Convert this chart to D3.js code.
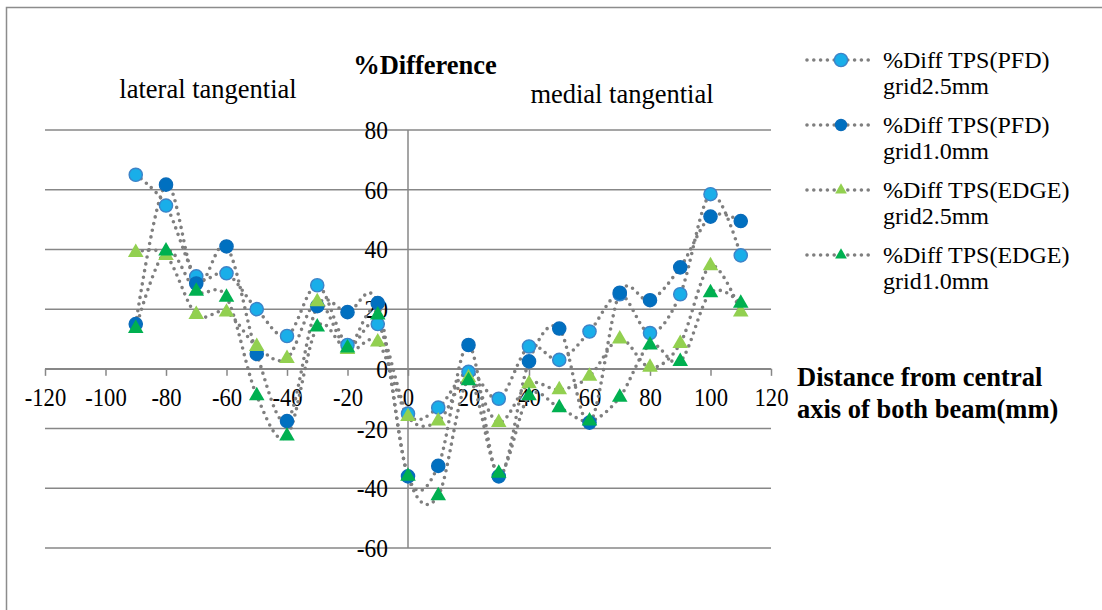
<!DOCTYPE html>
<html>
<head>
<meta charset="utf-8">
<script src="https://cdn.jsdelivr.net/npm/d3@7"></script>
<style>
  body { margin: 0; background: #fff; }
  svg text { font-family: "Liberation Serif", Tinos, "Times New Roman", Times, "DejaVu Serif", serif; fill: #000; }
</style>
</head>
<body>
<svg id="chart" width="1102" height="610"></svg>
<script>
// distance from central axis (mm)
const distances = [-90, -80, -70, -60, -50, -40, -30, -20, -10, 0, 10, 20, 30, 40, 50, 60, 70, 80, 90, 100, 110];
const pfdGrid25 = [65, 54.7, 31, 32, 20, 11, 28, 8, 15, -15, -13, -1, -10, 7.5, 3, 12.5, 25, 12, 25, 58.5, 38];
const pfdGrid10 = [15, 61.7, 28.6, 41, 5, -17.5, 21, 19, 22, -36, -32.5, 8, -36, 2.5, 13.5, -18, 25.5, 23, 34, 51, 49.5];
const edgeGrid25 = [39, 38, 18.2, 19, 7.5, 3.5, 22.5, 6.5, 9, -16, -17.5, -3, -18, -5, -7, -2.5, 10, 0.5, 8.5, 34.5, 19];
const edgeGrid10 = [13.5, 39.5, 26, 24, -9, -22.5, 14, 7, 18, -36, -42.5, -4, -35, -9, -13, -17.5, -9.5, 8, 2.5, 25.5, 22];
const xTicks = [-120, -100, -80, -60, -40, -20, 0, 20, 40, 60, 80, 100, 120];
const yTicks = [-60, -40, -20, 0, 20, 40, 60, 80];

const series = [
    { name: ['%Diff TPS(PFD)', 'grid2.5mm'], values: pfdGrid25, shape: 'circle', fill: '#19aee9', stroke: '#3d83c8' },
    { name: ['%Diff TPS(PFD)', 'grid1.0mm'], values: pfdGrid10, shape: 'circle', fill: '#0070c0', stroke: '#0a6cba' },
    { name: ['%Diff TPS(EDGE)', 'grid2.5mm'], values: edgeGrid25, shape: 'triangle', fill: '#92d050', stroke: 'none' },
    { name: ['%Diff TPS(EDGE)', 'grid1.0mm'], values: edgeGrid10, shape: 'triangle', fill: '#00b050', stroke: 'none' }
];

const svg = d3.select('#chart');

// outer frame
svg.append('rect')
    .attr('x', 6.5).attr('y', 7.5)
    .attr('width', 1200).attr('height', 700)
    .attr('fill', 'none').attr('stroke', '#8c8c8c').attr('stroke-width', 1.5);

const x = d3.scaleLinear().domain([-120, 120]).range([45, 771]);
const y = d3.scaleLinear().domain([-60, 80]).range([548, 130]);

// horizontal gridlines
svg.append('g').selectAll('line')
    .data(yTicks)
    .enter()
    .append('line')
    .attr('x1', x(-120)).attr('x2', x(120))
    .attr('y1', (d) => y(d)).attr('y2', (d) => y(d))
    .attr('stroke', '#878787').attr('stroke-width', 1.5);

// vertical axis line
svg.append('line')
    .attr('x1', x(0)).attr('x2', x(0))
    .attr('y1', y(80)).attr('y2', y(-60))
    .attr('stroke', '#878787').attr('stroke-width', 1.5);

// x axis through zero
const xAxis = svg.append('g')
    .attr('transform', `translate(0,${y(0)})`)
    .call(d3.axisBottom(x).tickValues(xTicks).tickFormat((d) => String(d))
        .tickSizeInner(7).tickSizeOuter(0).tickPadding(12));
xAxis.attr('font-family', null).attr('font-size', null);
xAxis.select('.domain').attr('stroke', '#878787').attr('stroke-width', 1.5);
xAxis.selectAll('.tick line').attr('stroke', '#878787').attr('stroke-width', 1.5);
xAxis.selectAll('.tick text')
    .style('font-size', '26px')
    .attr('transform', 'scale(0.87,1)')
    .attr('fill', '#000');

// y tick labels sit left of the vertical axis (slightly condensed like the original)
svg.append('g').selectAll('text')
    .data(yTicks)
    .enter()
    .append('text')
    .attr('transform', (d) => `translate(${x(0) - 20},${y(d) + 9}) scale(0.9,1)`)
    .attr('text-anchor', 'end')
    .style('font-size', '26px')
    .text((d) => String(d));

const line = d3.line()
    .x((d) => x(d[0]))
    .y((d) => y(d[1]))
    .curve(d3.curveCardinal.tension(0));

// dotted smooth lines
series.forEach((s) => {
    svg.append('path')
        .datum(distances.map((d, i) => [d, s.values[i]]))
        .attr('fill', 'none')
        .attr('stroke', '#7f7f7f')
        .attr('stroke-width', 3.6)
        .attr('stroke-linecap', 'round')
        .attr('stroke-dasharray', '0 6.8')
        .attr('d', line);
});

const triangle = d3.symbol().type(d3.symbolTriangle).size(105);

const drawMarker = (g, s, cx, cy) => {
    if (s.shape === 'circle') {
        g.append('circle')
            .attr('cx', cx).attr('cy', cy).attr('r', 6.6)
            .attr('fill', s.fill).attr('stroke', s.stroke).attr('stroke-width', 1.4);
    } else {
        g.append('path')
            .attr('d', triangle())
            .attr('transform', `translate(${cx},${cy})`)
            .attr('fill', s.fill);
    }
};

// markers
series.forEach((s) => {
    const g = svg.append('g');
    distances.forEach((d, i) => drawMarker(g, s, x(d), y(s.values[i])));
});

// titles
svg.append('text')
    .attr('x', 425).attr('y', 74)
    .attr('text-anchor', 'middle')
    .style('font-size', '26.5px').style('font-weight', 'bold')
    .text('%Difference');

svg.append('text')
    .attr('x', 208).attr('y', 98)
    .attr('text-anchor', 'middle')
    .style('font-size', '26.5px')
    .text('lateral tangential');

svg.append('text')
    .attr('x', 622).attr('y', 103)
    .attr('text-anchor', 'middle')
    .style('font-size', '26.5px')
    .text('medial tangential');

const xTitle = svg.append('text')
    .attr('x', 797).attr('y', 386)
    .style('font-size', '26.5px').style('font-weight', 'bold');
xTitle.append('tspan').attr('x', 797).text('Distance from central');
xTitle.append('tspan').attr('x', 797).attr('dy', 32).text('axis of both beam(mm)');

// legend
series.forEach((s, i) => {
    const ly = 60 + i * 65;
    const g = svg.append('g');
    g.append('line')
        .attr('x1', 807).attr('x2', 873)
        .attr('y1', ly).attr('y2', ly)
        .attr('stroke', '#7f7f7f').attr('stroke-width', 3.6)
        .attr('stroke-linecap', 'round').attr('stroke-dasharray', '0 6.8');
    if (s.shape === 'circle') {
        g.append('circle')
            .attr('cx', 841).attr('cy', ly).attr('r', i === 0 ? 6.6 : 5.5)
            .attr('fill', s.fill).attr('stroke', s.stroke).attr('stroke-width', 1.4);
    } else {
        g.append('path')
            .attr('d', d3.symbol().type(d3.symbolTriangle).size(60)())
            .attr('transform', `translate(841,${ly})`)
            .attr('fill', s.fill);
    }
    const t = g.append('text').attr('x', 883).attr('y', ly + 8).style('font-size', '24px');
    t.append('tspan').attr('x', 883).text(s.name[0]);
    t.append('tspan').attr('x', 883).attr('dy', 26).text(s.name[1]);
});
</script>
</body>
</html>
